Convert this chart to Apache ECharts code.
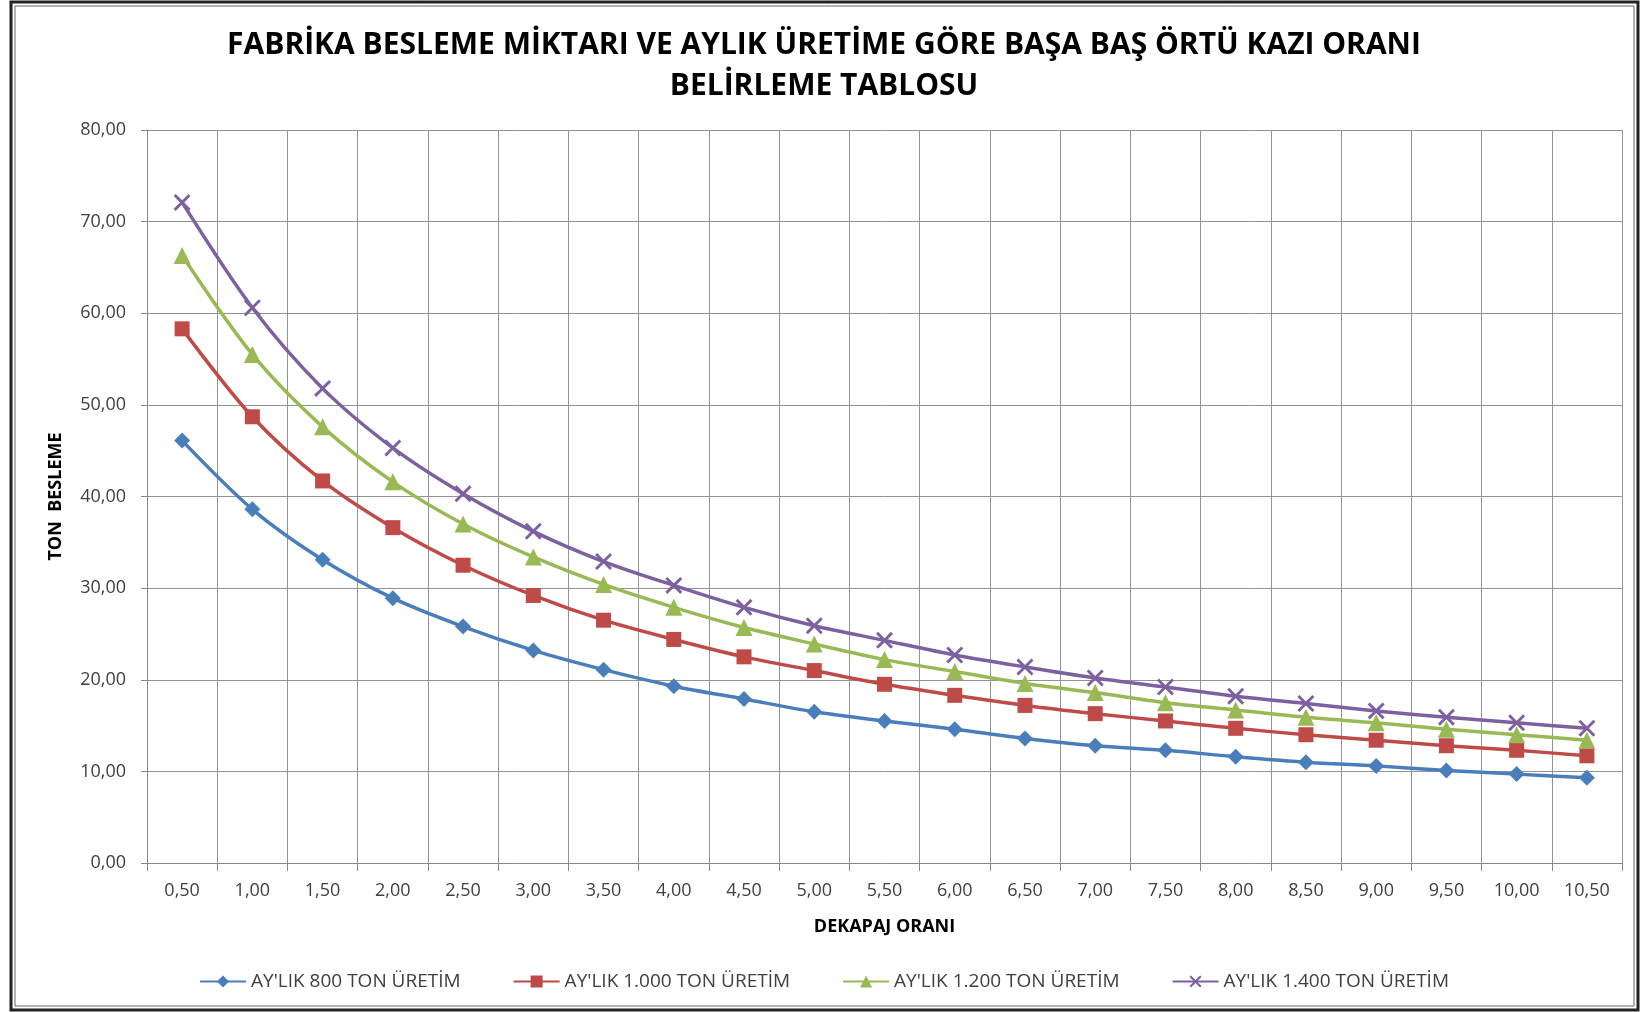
<!DOCTYPE html>
<html><head><meta charset="utf-8">
<script src="https://cdn.jsdelivr.net/npm/echarts@6/dist/echarts.min.js"></script>
<style>html,body{margin:0;padding:0;background:#fff}#c{width:1648px;height:1012px}</style>
</head><body><div id="c"></div>
<script>
const categories = ['0,50','1,00','1,50','2,00','2,50','3,00','3,50','4,00','4,50','5,00','5,50','6,00','6,50','7,00','7,50','8,00','8,50','9,00','9,50','10,00','10,50'];
const ton800  = [46.1,38.6,33.1,28.9,25.8,23.2,21.1,19.3,17.9,16.5,15.5,14.6,13.6,12.8,12.3,11.6,11.0,10.6,10.1,9.7,9.3];
const ton1000 = [58.3,48.7,41.7,36.6,32.5,29.2,26.5,24.4,22.5,21.0,19.5,18.3,17.2,16.3,15.5,14.7,14.0,13.4,12.8,12.3,11.7];
const ton1200 = [66.3,55.5,47.6,41.6,37.0,33.4,30.4,27.9,25.7,23.9,22.2,20.9,19.6,18.6,17.5,16.7,15.9,15.3,14.6,14.0,13.4];
const ton1400 = [72.1,60.6,51.8,45.3,40.3,36.2,32.9,30.3,27.9,25.9,24.3,22.7,21.4,20.2,19.2,18.2,17.4,16.6,15.9,15.3,14.7];
const seriesNames = ["AY'LIK 800 TON ÜRETİM","AY'LIK 1.000 TON ÜRETİM","AY'LIK 1.200 TON ÜRETİM","AY'LIK 1.400 TON ÜRETİM"];
const colors = ['#4a7ebb','#be4b48','#98b954','#7d60a0'];
const xSym = 'path://M0,0.12L0.12,0L0.5,0.38L0.88,0L1,0.12L0.62,0.5L1,0.88L0.88,1L0.5,0.62L0.12,1L0,0.88L0.38,0.5Z';
const symbols = ['diamond','rect','triangle',xSym];
const symSizes = [16,15,17,17];
const dataSets = [ton800,ton1000,ton1200,ton1400];

const chart = echarts.init(document.getElementById('c'));
const font = '"Open Sans", "Liberation Sans", sans-serif';
chart.setOption({
  animation:false,
  backgroundColor:'#fff',
  color:colors,
  title:{
    text:'FABRİKA BESLEME MİKTARI VE AYLIK ÜRETİME GÖRE BAŞA BAŞ ÖRTÜ KAZI ORANI\nBELİRLEME TABLOSU',
    left:'center', top:20,
    textStyle:{fontFamily:font,fontWeight:'bold',fontSize:30,color:'#000',lineHeight:41}
  },
  legend:{
    bottom:16, left:'center', itemGap:52, itemWidth:46, itemHeight:15,
    textStyle:{fontFamily:font,fontSize:19,color:'#404040'},
    data:seriesNames
  },
  grid:{left:147,right:26,top:130,bottom:149},
  xAxis:{
    type:'category', data:categories, boundaryGap:true,
    name:'DEKAPAJ ORANI', nameLocation:'middle', nameGap:55,
    nameTextStyle:{fontFamily:font,fontWeight:'bold',fontSize:18,color:'#000'},
    axisLine:{lineStyle:{color:'#888',width:1}},
    axisTick:{show:true,length:8,alignWithLabel:false,lineStyle:{color:'#888'}},
    axisLabel:{fontFamily:font,fontSize:18,color:'#404040',margin:19,interval:0},
    splitLine:{show:true,lineStyle:{color:'#939393',width:1}}
  },
  yAxis:{
    type:'value', min:0, max:80, interval:10,
    name:'TON  BESLEME', nameLocation:'middle', nameGap:82, nameRotate:90,
    nameTextStyle:{fontFamily:font,fontWeight:'bold',fontSize:18,color:'#000'},
    axisLine:{show:true,lineStyle:{color:'#888'}},
    axisTick:{show:true,length:6,lineStyle:{color:'#888'}},
    axisLabel:{fontFamily:font,fontSize:18,color:'#404040',margin:21,
      formatter:v=>v.toFixed(2).replace('.',',')},
    splitLine:{show:true,lineStyle:{color:'#939393',width:1}}
  },
  series:dataSets.map((d,i)=>({
    name:seriesNames[i], type:'line', data:d, smooth:0.3,
    symbol:symbols[i], symbolSize:symSizes[i], showAllSymbol:true,
    lineStyle:{width:3.5,color:colors[i]},
    itemStyle:{color:colors[i]},
    z:2+i
  })),
  graphic:[
    {type:'rect',shape:{x:11,y:2,width:1627,height:1008},style:{fill:'none',stroke:'#222',lineWidth:3},silent:true},
    {type:'rect',shape:{x:15,y:6,width:1619,height:1000},style:{fill:'none',stroke:'#666',lineWidth:1},silent:true}
  ]
});
</script></body></html>
